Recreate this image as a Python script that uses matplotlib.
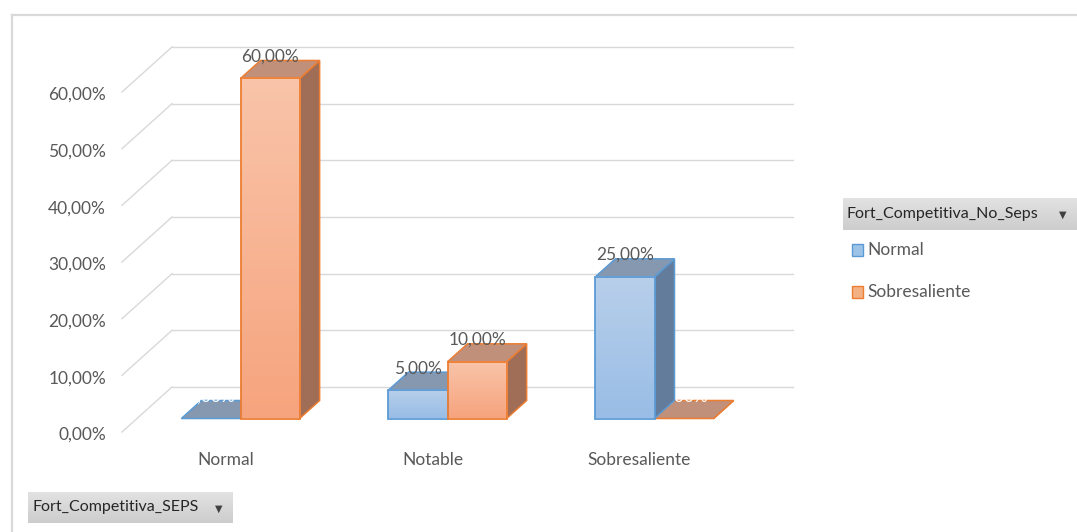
import numpy as np
import matplotlib.pyplot as plt
from matplotlib.patches import Polygon, Rectangle
from matplotlib.lines import Line2D
from matplotlib.colors import to_rgb

# Pivot data: share of companies by competitive strength
categories = ['Normal', 'Notable', 'Sobresaliente']
series_names = ['Normal', 'Sobresaliente']
normal_vals = [0.0, 5.0, 25.0]
sobresaliente_vals = [60.0, 10.0, 0.0]
y_ticks = [0, 10, 20, 30, 40, 50, 60]
legend_title = 'Fort_Competitiva_No_Seps'
axis_field = 'Fort_Competitiva_SEPS'

W, H = 1077, 532
plt.rcParams['font.family'] = ['Lato', 'DejaVu Sans']

# Oblique 3D projection set up on a plain 2D axes
X0_PX, CAT_PX = 122, 207      # front plane left edge, width of one category
Y0_PX, PCT_PX = 432, 5.667    # front plane 0% line, pixels per percent
DX = 50 / CAT_PX              # depth shift in category units
DY = 45 / PCT_PX              # depth shift in percent units
BAR_W = 1 / 3.5               # gap width 150%
BAR_DEPTH = (0.3, 0.7)

styles = {
    'Normal': dict(front=('#b8cfea', '#99bde6'), top='#8697b0', side='#637c9b',
                   edge='#5b9bd5', swatch='#9dc3e6'),
    'Sobresaliente': dict(front=('#f9c4a9', '#f6a47e'), top='#c0907b', side='#a06d57',
                          edge='#ed7d31', swatch='#f4b183'),
}
GRID = '#d9d9d9'
TEXT = '#595959'
FS = 12.5


def pct(v):
    return f'{v:.2f}%'.replace('.', ',')


def fig_xy(x, y):
    return x / W, 1 - y / H


fig = plt.figure(figsize=(W / 100, H / 100), dpi=100)
ax = fig.add_axes([0, 0, 1, 1])
ax.axis('off')

# side wall diagonals and back wall gridlines
for v in y_ticks:
    ax.plot([-0.5, -0.5 + DX], [v, v + DY], color=GRID, lw=1.0, zorder=1)
    ax.plot([-0.5 + DX, len(categories) - 0.5 + DX], [v + DY, v + DY],
            color=GRID, lw=1.0, zorder=1)
    ax.annotate(pct(v), xy=(-0.5, v), xytext=(-16, -3), textcoords='offset pixels',
                ha='right', va='center', fontsize=FS, color=TEXT)

for i, cat in enumerate(categories):
    ax.annotate(cat, xy=(i, 0), xytext=(0, -28), textcoords='offset pixels',
                ha='center', va='center', fontsize=FS, color=TEXT)


def draw_bar(x_left, value, st, z):
    d0, d1 = BAR_DEPTH
    fx, fy = x_left + d0 * DX, d0 * DY
    bx, by = x_left + d1 * DX, d1 * DY
    w = BAR_W
    side = [(fx + w, fy), (bx + w, by), (bx + w, by + value), (fx + w, fy + value)]
    top = [(fx, fy + value), (fx + w, fy + value), (bx + w, by + value), (bx, by + value)]
    ax.add_patch(Polygon(side, closed=True, facecolor=st['side'], edgecolor=st['edge'],
                         lw=1.1, zorder=z))
    ax.add_patch(Polygon(top, closed=True, facecolor=st['top'], edgecolor=st['edge'],
                         lw=1.1, zorder=z + 0.1))
    if value > 0:
        c_top, c_bot = np.array(to_rgb(st['front'][0])), np.array(to_rgb(st['front'][1]))
        t = np.linspace(0, 1, 64)[:, None, None]
        grad = c_bot * (1 - t) + c_top * t
        ax.imshow(grad, extent=(fx, fx + w, fy, fy + value), origin='lower',
                  aspect='auto', interpolation='bilinear', zorder=z + 0.2)
        ax.add_patch(Rectangle((fx, fy), w, value, fill=False, edgecolor=st['edge'],
                               lw=1.3, zorder=z + 0.3))
    # data label sits above the front face
    ax.annotate(pct(value), xy=(fx + w / 2, fy + value), xytext=(0, 22),
                textcoords='offset pixels', ha='center', va='center', fontsize=FS,
                color=TEXT if value > 0 else 'white', zorder=z + 0.5)


for i in range(len(categories)):
    for j, (name, vals) in enumerate(zip(series_names, [normal_vals, sobresaliente_vals])):
        # flat (zero) bars go underneath the standing ones
        z = 3 if vals[i] == 0 else 5
        draw_bar(i - BAR_W + j * BAR_W, vals[i], styles[name], z)

ax.set_xlim(-0.5 - X0_PX / CAT_PX, -0.5 + (W - X0_PX) / CAT_PX)
ax.set_ylim(-(H - Y0_PX) / PCT_PX, Y0_PX / PCT_PX)

# chart area border (top and left edges visible)
fig.add_artist(Line2D([12 / W, 1], [1 - 15 / H, 1 - 15 / H], color=GRID, lw=1.6,
                      transform=fig.transFigure))
fig.add_artist(Line2D([12 / W, 12 / W], [0, 1 - 15 / H], color=GRID, lw=1.6,
                      transform=fig.transFigure))


def field_button(x, y, w, h, label):
    bax = fig.add_axes([x / W, 1 - (y + h) / H, w / W, h / H])
    t = np.linspace(0, 1, 32)[:, None, None]
    g = np.array(to_rgb('#cdcdcd')) * (1 - t) + np.array(to_rgb('#e2e2e2')) * t
    bax.imshow(g, extent=(0, w, 0, h), origin='lower', aspect='auto')
    bax.set_xlim(0, w)
    bax.set_ylim(0, h)
    bax.axis('off')
    bax.text(4, h / 2, label, ha='left', va='center', fontsize=11.5, color='#262626')
    bax.text(w - 14, h / 2 - 1, '▼', ha='center', va='center', fontsize=7,
             color='#404040', family='DejaVu Sans')


field_button(843, 198, 234, 32, legend_title)
field_button(28, 492, 205, 31, axis_field)

# series legend
for k, name in enumerate(series_names):
    cy = 250 + k * 42
    st = styles[name]
    fig.add_artist(Rectangle(fig_xy(852, cy + 6), 11 / W, 12 / H, facecolor=st['swatch'],
                             edgecolor=st['edge'], lw=1.0, transform=fig.transFigure))
    fig.text(*fig_xy(867, cy), name, ha='left', va='center', fontsize=FS, color=TEXT)

fig.savefig('out.png', dpi=100)
